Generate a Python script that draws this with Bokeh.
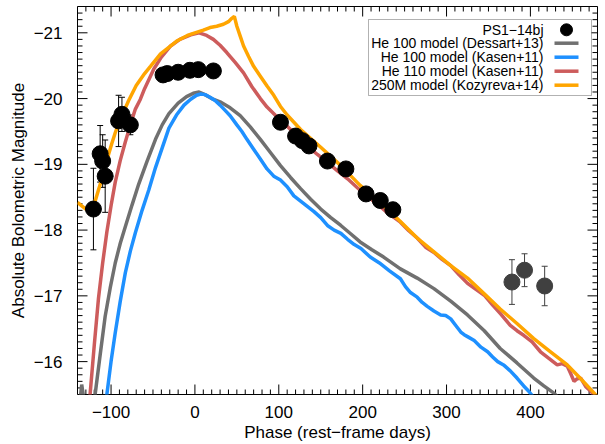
from bokeh.plotting import figure
from bokeh.models import (ColumnDataSource, Range1d, SingleIntervalTicker,
                          Whisker, TeeHead, Label, BoxAnnotation)
from bokeh.embed import file_html
from bokeh.resources import INLINE

# ---------------- data ----------------
x_limits = [-140, 480]
y_limits = [-15.5, -21.4]
x_tick_values = [-100, 0, 100, 200, 300, 400]
x_tick_labels = ["\u2212100", "0", "100", "200", "300", "400"]
y_tick_values = [-21, -20, -19, -18, -17, -16]
y_tick_labels = ["\u221221", "\u221220", "\u221219", "\u221218", "\u221217", "\u221216"]

legend_labels = ["PS1\u221214bj", "He 100 model (Dessart+13)", "He 100 model (Kasen+11)",
                 "He 110 model (Kasen+11)", "250M model (Kozyreva+14)"]

# PS1-14bj observations (black)
obs_phase = [-121, -113, -110, -107, -91, -87, -77,
             -38, -33, -20, -6, 4, 22,
             102, 120, 128, 136, 158, 180, 204, 221, 236]
obs_mag = [-18.32, -19.16, -19.05, -18.82, -19.66, -19.76, -19.60,
           -20.36, -20.38, -20.40, -20.43, -20.44, -20.42,
           -19.64, -19.43, -19.36, -19.28, -19.05, -18.93, -18.55, -18.45, -18.31]
obs_err = [0.62, 0.43, 0.40, 0.55, 0.39, 0.26, 0.15,
           0, 0, 0, 0, 0, 0,
           0, 0, 0, 0, 0, 0, 0, 0, 0]

# late-time observations (dark grey)
late_phase = [378, 393, 417]
late_mag = [-17.21, -17.39, -17.15]
late_err = [0.34, 0.25, 0.30]

# He 100 model (Dessart+13), grey
d13_phase = [-140, -137, -135, -132, -129, -122, -119, -113, -107, -101, -95, -89, -83, -75, -67, -57,
             -47, -39, -31, -20, -10, -2, 5, 12, 20, 30, 42, 54, 66, 78, 90, 102, 114, 126,
             138, 150, 162, 174, 186, 197, 211, 225, 245, 265, 285, 305, 325, 345, 364, 384,
             404, 416, 428, 436]
d13_mag = [-15.2, -15.4, -15.65, -15.4, -15.2, -15.1, -15.5, -16.1, -16.69, -17.12, -17.5, -17.8, -18.05, -18.38, -18.7, -19.05,
           -19.38, -19.6, -19.77, -19.93, -20.03, -20.08, -20.1, -20.06, -20.0, -19.95, -19.86, -19.74, -19.57, -19.38, -19.18, -18.98, -18.80, -18.63,
           -18.47, -18.32, -18.19, -18.07, -17.94, -17.82, -17.70, -17.59, -17.41, -17.27, -17.11, -16.92, -16.71, -16.47, -16.20, -15.98,
           -15.75, -15.63, -15.52, -15.42]

# He 100 model (Kasen+11), blue
k100_phase = [-108, -105, -100, -95, -89, -83, -77, -71, -63, -55, -47, -39, -31, -22, -13, -5, 2, 7, 12, 18,
              24, 30, 36, 42, 50, 56, 62, 70, 78, 86, 94, 102, 110, 118, 126, 134, 142, 150, 158,
              166, 174, 182, 190, 198, 209, 220, 232, 245, 251, 257, 265, 271, 277, 285, 293, 299,
              305, 311, 317, 321, 325, 333, 341, 349, 355, 361, 368, 376, 384, 392, 398, 406]
k100_mag = [-15.2, -15.5, -16.0, -16.44, -16.92, -17.35, -17.68, -17.96, -18.3, -18.61, -18.95, -19.25, -19.55, -19.75, -19.9, -19.99, -20.05, -20.07, -20.06, -20.02,
            -19.97, -19.9, -19.82, -19.74, -19.6, -19.5, -19.38, -19.23, -19.08, -18.93, -18.82, -18.76, -18.66, -18.52, -18.44, -18.36, -18.28, -18.19, -18.07,
            -18.0, -17.95, -17.86, -17.78, -17.72, -17.59, -17.50, -17.38, -17.26, -17.14, -17.05, -16.98, -16.90, -16.84, -16.77, -16.71, -16.70,
            -16.65, -16.55, -16.45, -16.41, -16.38, -16.32, -16.22, -16.15, -16.07, -16.0, -15.95, -15.86, -15.75, -15.63, -15.55, -15.42]

# He 110 model (Kasen+11), red
k110_phase = [-128, -125, -120, -115, -110, -105, -100, -95, -89, -83, -77, -71, -65, -60, -49, -40,
              -29, -18, -5, 5, 14, 22, 30, 38, 48, 58, 68, 78, 86, 98, 110, 122, 134, 146, 158, 170,
              182, 194, 205, 217, 229, 245, 255, 265, 275, 285, 295, 305, 315, 325, 335, 345, 355,
              365, 376, 384, 392, 402, 412, 422, 432, 438, 444, 448, 452, 456, 460, 466, 472, 480]
k110_mag = [-15.05, -15.5, -16.25, -16.96, -17.5, -17.97, -18.37, -18.73, -19.06, -19.34, -19.6, -19.84, -19.99, -20.15, -20.45, -20.63,
            -20.80, -20.9, -20.97, -21.0, -20.96, -20.90, -20.81, -20.70, -20.55, -20.39, -20.18, -20.0, -19.87, -19.72, -19.58, -19.43, -19.28, -19.15, -19.03, -18.9,
            -18.78, -18.64, -18.52, -18.4, -18.27, -18.12, -17.99, -17.88, -17.74, -17.66, -17.55, -17.46, -17.32, -17.19, -17.10, -17.01, -16.86,
            -16.72, -16.55, -16.47, -16.40, -16.30, -16.15, -16.05, -15.95, -15.97, -15.93, -15.82, -15.70, -15.74, -15.75, -15.62, -15.55, -15.42]

# 250M model (Kozyreva+14), orange
koz_phase = [-140, -135, -130, -126, -122, -118, -115, -110, -107, -103, -99, -95, -91, -87, -79, -70, -60, -53,
             -41, -33, -21, -9, 0, 10, 18, 26, 34, 40, 44, 47, 50, 54, 58, 64, 70, 78, 86, 94, 102,
             110, 126, 150, 174, 197, 221, 245, 265, 285, 305, 325, 345, 364, 384, 404, 424, 444,
             460, 476, 480]
koz_mag = [-18.42, -18.37, -18.32, -18.31, -18.35, -18.48, -18.61, -18.82, -18.96, -19.15, -19.32, -19.48, -19.62, -19.74, -19.97, -20.2, -20.38, -20.49,
           -20.68, -20.76, -20.88, -20.96, -21.0, -21.04, -21.08, -21.1, -21.13, -21.17, -21.22, -21.25, -21.1, -20.95, -20.80, -20.64, -20.49, -20.34, -20.19, -20.05, -19.88,
           -19.75, -19.53, -19.26, -18.98, -18.68, -18.42, -18.13, -17.88, -17.67, -17.46, -17.27, -17.03, -16.80, -16.58, -16.35, -16.15, -15.95,
           -15.74, -15.52, -15.46]

# ---------------- styling ----------------
FONT = "Liberation Sans"
C_GREY = "#707070"
C_BLUE = "#1e90ff"
C_RED = "#cd5c5c"
C_ORANGE = "#ffa500"
C_LATE = "#404040"
legend_colors = ["black", C_GREY, C_BLUE, C_RED, C_ORANGE]

FRAME_W, FRAME_H = 520, 388

p = figure(frame_width=FRAME_W, frame_height=FRAME_H, output_backend="svg", toolbar_location=None,
           x_range=Range1d(*x_limits), y_range=Range1d(*y_limits),
           min_border_left=77, min_border_right=8, min_border_top=6, min_border_bottom=50,
           x_axis_label="Phase (rest\u2212frame days)",
           y_axis_label="Absolute Bolometric Magnitude")
p.grid.visible = False
p.outline_line_color = "black"
p.outline_line_width = 1
p.background_fill_color = "white"

for ax, ticker, vals, labs in [(p.xaxis[0], SingleIntervalTicker(interval=100), x_tick_values, x_tick_labels),
                               (p.yaxis[0], SingleIntervalTicker(interval=1), y_tick_values, y_tick_labels)]:
    ax.ticker = ticker
    ax.major_label_overrides = {float(v): s for v, s in zip(vals, labs)}
    ax.major_tick_line_color = None
    ax.minor_tick_line_color = None
    ax.axis_line_color = None
    ax.major_tick_out = 0
    ax.major_tick_in = 0
    ax.minor_tick_out = 0
    ax.minor_tick_in = 0
    ax.major_label_text_font = FONT
    ax.major_label_text_font_size = "17px"
    ax.major_label_text_color = "black"
    ax.axis_label_text_font = FONT
    ax.axis_label_text_font_size = "17px"
    ax.axis_label_text_font_style = "normal"
    ax.axis_label_text_color = "black"

p.xaxis[0].major_label_standoff = 11
p.xaxis[0].axis_label_standoff = 2
p.yaxis[0].major_label_standoff = 15
p.yaxis[0].axis_label_standoff = 3

# ---------------- inward ticks on all four sides (drawn as head-less whiskers) ----------------
x_minor = [v for v in range(x_limits[0], x_limits[1] + 1, 10) if v not in x_tick_values]
y_minor = [round(-21.4 + 0.1 * i, 1) for i in range(60)]
y_minor = [v for v in y_minor if abs(v - round(v)) > 1e-6]
px_x = (x_limits[1] - x_limits[0]) / FRAME_W      # days per pixel
px_y = (y_limits[1] - y_limits[0]) / FRAME_H      # mag per pixel (negative: upward)

xt_pos = x_tick_values + x_minor
xt_len = [10] * len(x_tick_values) + [5] * len(x_minor)
yt_pos = y_tick_values + y_minor
yt_len = [10] * len(y_tick_values) + [5] * len(y_minor)

tick_sets = [
    (xt_pos, [y_limits[0]] * len(xt_pos), [y_limits[0] + l * px_y for l in xt_len], "height"),
    (xt_pos, [y_limits[1]] * len(xt_pos), [y_limits[1] - l * px_y for l in xt_len], "height"),
    (yt_pos, [x_limits[0]] * len(yt_pos), [x_limits[0] + l * px_x for l in yt_len], "width"),
    (yt_pos, [x_limits[1]] * len(yt_pos), [x_limits[1] - l * px_x for l in yt_len], "width"),
]
for base, lo, hi, dim in tick_sets:
    src = ColumnDataSource(dict(base=base, lower=lo, upper=hi))
    p.add_layout(Whisker(source=src, base="base", lower="lower", upper="upper", dimension=dim,
                         line_color="black", line_width=1, level="underlay",
                         upper_head=None, lower_head=None))

# ---------------- model curves ----------------
p.line(d13_phase, d13_mag, line_color=C_GREY, line_width=3.5)
p.line(k100_phase, k100_mag, line_color=C_BLUE, line_width=3.5)
p.line(k110_phase, k110_mag, line_color=C_RED, line_width=3.5)
p.line(koz_phase, koz_mag, line_color=C_ORANGE, line_width=3.5)

# ---------------- observations ----------------
eb_idx = [i for i, e in enumerate(obs_err) if e > 0]
eb_src = ColumnDataSource(dict(
    x=[obs_phase[i] for i in eb_idx],
    lower=[obs_mag[i] - obs_err[i] for i in eb_idx],
    upper=[obs_mag[i] + obs_err[i] for i in eb_idx]))
p.add_layout(Whisker(source=eb_src, base="x", lower="lower", upper="upper", dimension="height",
                     line_color="black", line_width=1, level="underlay",
                     upper_head=TeeHead(size=6, line_color="black", line_width=1),
                     lower_head=TeeHead(size=6, line_color="black", line_width=1)))

late_src = ColumnDataSource(dict(
    x=late_phase, y=late_mag,
    lower=[m - e for m, e in zip(late_mag, late_err)],
    upper=[m + e for m, e in zip(late_mag, late_err)]))
p.add_layout(Whisker(source=late_src, base="x", lower="lower", upper="upper", dimension="height",
                     line_color=C_LATE, line_width=1, level="underlay",
                     upper_head=TeeHead(size=6, line_color=C_LATE, line_width=1),
                     lower_head=TeeHead(size=6, line_color=C_LATE, line_width=1)))

p.scatter(obs_phase, obs_mag, size=16, marker="circle", fill_color="black", line_color="black")
p.scatter("x", "y", source=late_src, size=16, marker="circle", fill_color=C_LATE, line_color=C_LATE)

# ---------------- legend (text left, symbol right), in frame pixel units ----------------
box = BoxAnnotation(left=291, right=514, bottom=299, top=375,
                    left_units="screen", right_units="screen", top_units="screen", bottom_units="screen",
                    fill_color="white", fill_alpha=1.0, line_color="black", line_width=1,
                    level="annotation")
p.add_layout(box)

row_y = [364.7, 351.3, 337.3, 323.3, 309.3]
for txt, yy in zip(legend_labels, row_y):
    p.add_layout(Label(x=466, y=yy, x_units="screen", y_units="screen", text=txt,
                       text_align="right", text_baseline="middle",
                       text_font=FONT, text_font_size="14px", text_color="black"))

leg = p.subplot(x_source=Range1d(0, FRAME_W), y_source=Range1d(0, FRAME_H),
                x_target=p.x_range, y_target=p.y_range)
leg.scatter([489], row_y[:1], size=12, marker="circle", fill_color=legend_colors[0],
            line_color=legend_colors[0], level="overlay")
leg.segment(x0=[477] * 4, x1=[501] * 4, y0=row_y[1:], y1=row_y[1:],
            line_color=legend_colors[1:], line_width=3.5, level="overlay")

open("out.html", "w").write(file_html(p, INLINE))
